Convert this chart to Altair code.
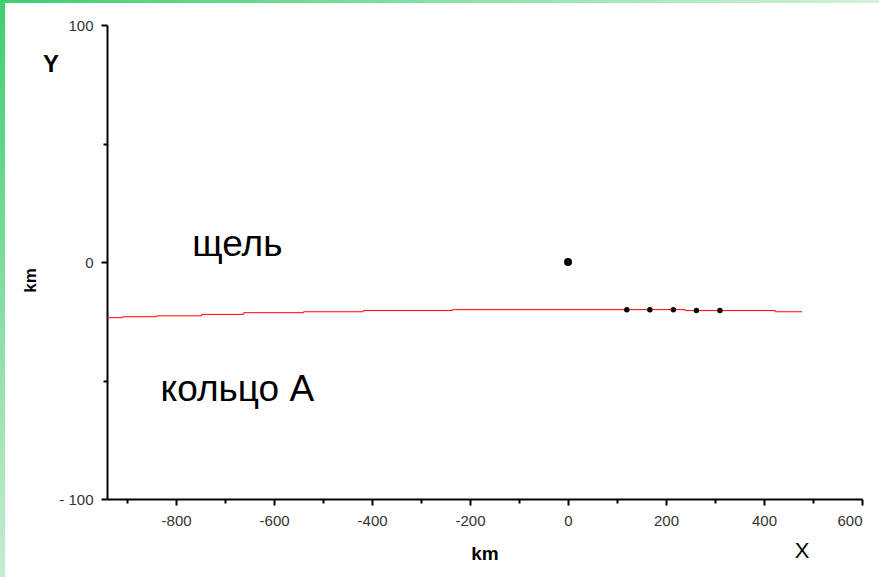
import altair as alt
import pandas as pd

# Red step line (ring A edge)
line_x = [-941, -909, -840, -748, -662, -540, -418, -236, 239, 423, 478]
line_y = [-23.5, -23.1, -22.7, -22.1, -21.4, -21.0, -20.5, -20.1, -20.5, -21.0, -21.0]

# Small black dots
dot_x = [120, 167, 215, 262, 310]
dot_y = [-20.1, -20.1, -20.1, -20.5, -20.5]

# Big dot
big_x = [0]
big_y = [0]

# Labels inside the plot
lab_text = ["щель", "кольцо А"]
lab_x = [-675, -675]
lab_y = [7, -54]

x_major = [-800, -600, -400, -200, 0, 200, 400, 600]
x_minor = [-900, -700, -500, -300, -100, 100, 300, 500]
y_major = [-100, 0, 100]
y_minor = [-50, 50]

FONT = "Liberation Sans"

line_df = pd.DataFrame({"x": line_x, "y": line_y})
dot_df = pd.DataFrame({"x": dot_x, "y": dot_y})
big_df = pd.DataFrame({"x": big_x, "y": big_y})
lab_df = pd.DataFrame({"t": lab_text, "x": lab_x, "y": lab_y})

xs = alt.Scale(domain=[-941, 600], nice=False, zero=False)
ys = alt.Scale(domain=[-100, 100], nice=False, zero=False)

ax_common = dict(domainColor="black", domainWidth=2, tickColor="black", tickWidth=2,
                 grid=False, labelFont=FONT, labelFontSize=15, labelColor="#333333")

x_major_axis = alt.Axis(values=x_major, tickSize=6, labelPadding=8, title="km",
                        titleFont=FONT, titleFontSize=19, titleFontWeight="bold",
                        titleY=54, titleBaseline="middle", orient="bottom",
                        labelExpr="datum.value < 0 ? '-' + abs(datum.value) : '' + datum.value",
                        **ax_common)
x_minor_axis = alt.Axis(values=x_minor, tickSize=4, labels=False, title=None,
                        domain=False, orient="bottom", tickColor="black", tickWidth=2, grid=False)
y_major_axis = alt.Axis(values=y_major, tickSize=6, labelPadding=8, title="km",
                        titleFont=FONT, titleFontSize=17, titleFontWeight="bold",
                        titleX=-77, titleY=255, titleAngle=270, titleAlign="center",
                        titleBaseline="middle",
                        labelExpr="datum.value < 0 ? '- ' + abs(datum.value) : '' + datum.value",
                        orient="left", **ax_common)
y_minor_axis = alt.Axis(values=y_minor, tickSize=4, labels=False, title=None,
                        domain=False, orient="left", tickColor="black", tickWidth=2, grid=False)

line = alt.Chart(line_df).mark_line(color="#ff0000", strokeWidth=1, interpolate="step-after").encode(
    x=alt.X("x:Q", scale=xs, axis=x_major_axis),
    y=alt.Y("y:Q", scale=ys, axis=y_major_axis),
)

dots = alt.Chart(dot_df).mark_circle(color="black", size=30, opacity=1).encode(
    x=alt.X("x:Q", scale=xs, axis=x_minor_axis),
    y=alt.Y("y:Q", scale=ys, axis=y_minor_axis),
)

big = alt.Chart(big_df).mark_circle(color="black", size=64, opacity=1).encode(
    x=alt.X("x:Q", scale=xs, axis=None),
    y=alt.Y("y:Q", scale=ys, axis=None),
)

labels = alt.Chart(lab_df).mark_text(font=FONT, fontSize=37, color="black",
                                     align="center", baseline="middle").encode(
    x=alt.X("x:Q", scale=xs, axis=None),
    y=alt.Y("y:Q", scale=ys, axis=None),
    text="t:N",
)

y_lab = alt.Chart(pd.DataFrame({"t": ["Y"]})).mark_text(
    font=FONT, fontSize=24, fontWeight="bold", color="black", align="center", baseline="middle"
).encode(x=alt.value(51 - 107), y=alt.value(65 - 25), text="t:N")
x_lab = alt.Chart(pd.DataFrame({"t": ["X"]})).mark_text(
    font=FONT, fontSize=22, color="black", align="center", baseline="middle"
).encode(x=alt.value(802 - 107), y=alt.value(551 - 25), text="t:N")

grad_v = {"gradient": "linear", "x1": 0, "y1": 0, "x2": 0, "y2": 1,
          "stops": [{"offset": 0, "color": "#3ecf6f"}, {"offset": 1, "color": "#c6ebd1"}]}
grad_h = {"gradient": "linear", "x1": 0, "y1": 0, "x2": 1, "y2": 0,
          "stops": [{"offset": 0, "color": "#3ecf6f"}, {"offset": 1, "color": "#d2f1dc"}]}
left_bar = alt.Chart(pd.DataFrame({"a": [0]})).mark_rect(fill=grad_v).encode(
    x=alt.value(-107), x2=alt.value(-102), y=alt.value(-25), y2=alt.value(552))
top_bar = alt.Chart(pd.DataFrame({"a": [0]})).mark_rect(fill=grad_h).encode(
    x=alt.value(-107), x2=alt.value(772), y=alt.value(-25), y2=alt.value(-22))

chart = alt.layer(left_bar, top_bar, line, dots, big, labels, y_lab, x_lab).resolve_axis(
    x="independent", y="independent"
).properties(
    width=755, height=474,
    autosize=alt.AutoSizeParams(type="none"),
    padding={"left": 107, "top": 25, "right": 17, "bottom": 78},
    background="white",
).configure_view(stroke=None)

chart.save("out.html", embed_options={"renderer": "svg", "actions": False})
